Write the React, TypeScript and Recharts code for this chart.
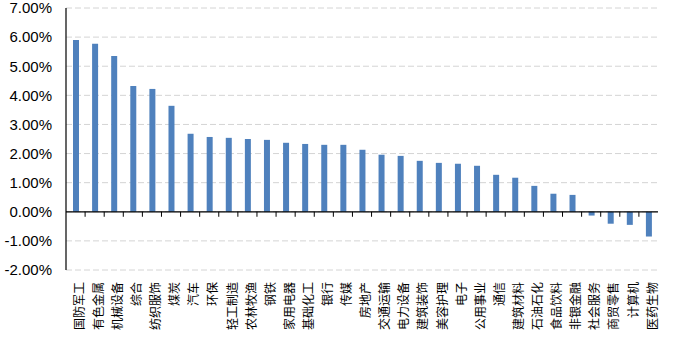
import React from 'react';
import { BarChart, Bar, XAxis, YAxis, CartesianGrid, ReferenceLine } from 'recharts';

const categories = [
  '国防军工', '有色金属', '机械设备', '综合', '纺织服饰', '煤炭', '汽车', '环保', '轻工制造', '农林牧渔',
  '钢铁', '家用电器', '基础化工', '银行', '传媒', '房地产', '交通运输', '电力设备', '建筑装饰', '美容护理',
  '电子', '公用事业', '通信', '建筑材料', '石油石化', '食品饮料', '非银金融', '社会服务', '商贸零售', '计算机',
  '医药生物',
];
const values = [
  5.9, 5.77, 5.35, 4.32, 4.22, 3.64, 2.68, 2.57, 2.54, 2.5,
  2.47, 2.37, 2.33, 2.3, 2.3, 2.13, 1.96, 1.92, 1.75, 1.68,
  1.65, 1.58, 1.27, 1.17, 0.89, 0.62, 0.58, -0.13, -0.41, -0.45,
  -0.85,
];
const yTicks = [-2, -1, 0, 1, 2, 3, 4, 5, 6, 7];

const data = categories.map((name, i) => ({ name, value: values[i] }));

const CJK = '"Noto Sans CJK SC", "Noto Sans", sans-serif';

// label rotated -90deg, its end pinned just under the plot
function RotatedTick(props: any) {
  const { x, y, payload } = props;
  const tx = x + 4;
  const ty = y + 4;
  return (
    <text
      x={tx}
      y={ty}
      dy="0.35em"
      textAnchor="end"
      transform={`rotate(-90, ${tx}, ${ty})`}
      fontSize={12}
      fontFamily={CJK}
      fill="#000"
    >
      {payload.value}
    </text>
  );
}

function ZeroAxis(props: any) {
  const { x1, y1, x2, y2 } = props;
  const n = categories.length;
  const step = (x2 - x1) / n;
  const ticks = [];
  for (let i = 1; i < n; i++) {
    const tx = x1 + i * step;
    ticks.push(<line key={i} x1={tx} x2={tx} y1={y1} y2={y1 + 5} stroke="#000" strokeWidth={1} />);
  }
  return (
    <g>
      <line x1={x1} y1={y1} x2={x2} y2={y2} stroke="#000" strokeWidth={1.2} />
      {ticks}
    </g>
  );
}

export default function App() {
  return (
    <div style={{ position: 'absolute', left: 0, top: 0, background: '#fff' }}>
      <BarChart width={673} height={347} data={data} margin={{ top: 8, right: 15, bottom: 0, left: 0 }}>
        <CartesianGrid vertical={false} stroke="#d4d4d4" strokeDasharray="6 3" />
        <XAxis
          dataKey="name"
          interval={0}
          height={77}
          axisLine={false}
          tickLine={false}
          tick={<RotatedTick />}
        />
        <YAxis
          width={66}
          domain={[-2, 7]}
          ticks={yTicks}
          interval={0}
          axisLine={{ stroke: '#000', strokeWidth: 1.2 }}
          tickLine={false}
          tickMargin={8}
          tickFormatter={(v: number) => `${v.toFixed(2)}%`}
          tick={{ fill: '#000', fontSize: 15, fontFamily: '"Liberation Sans", Arial, sans-serif' }}
        />
        <ReferenceLine y={0} shape={<ZeroAxis />} />
        <Bar dataKey="value" fill="#4F81BD" barSize={6} isAnimationActive={false} />
      </BarChart>
    </div>
  );
}
